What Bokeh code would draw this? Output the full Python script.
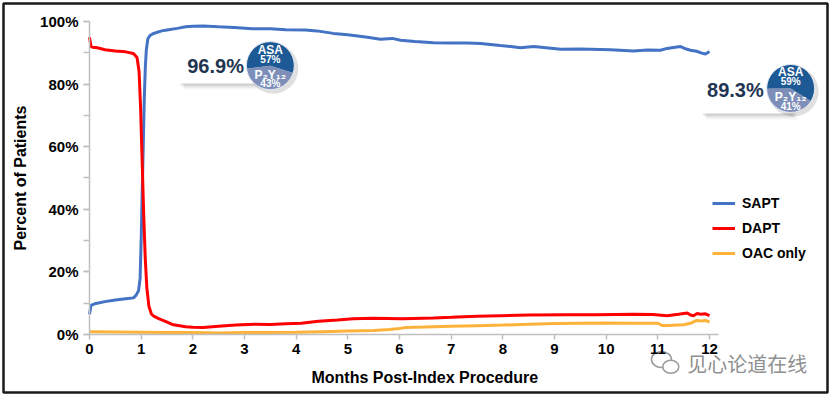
import numpy as np
from bokeh.plotting import figure
from bokeh.models import Range1d, FixedTicker, SingleIntervalTicker, PrintfTickFormatter, Legend, LegendItem, Label
from bokeh.core.properties import value
from bokeh.embed import file_html
from bokeh.resources import INLINE

# ---------------- data ----------------
sapt_m = [0, 0.03, 0.1, 0.3, 0.5, 0.7, 0.85, 0.9, 0.95, 0.98, 1.0, 1.02, 1.04, 1.06, 1.08, 1.1, 1.13, 1.17,
          1.22, 1.3, 1.4, 1.5, 1.7, 1.86, 2.0, 2.2, 2.5, 2.8, 3.15, 3.5, 3.8, 4.18, 4.4, 4.72, 5.0, 5.38,
          5.63, 5.86, 6.02, 6.3, 6.66, 7.0, 7.31, 7.57, 7.95, 8.15, 8.34, 8.6, 9.12, 9.5, 10.08, 10.53,
          10.8, 11.05, 11.18, 11.3, 11.44, 11.55, 11.63, 11.75, 11.85, 11.92, 12.0]
sapt_v = [6.5, 9.3, 9.8, 10.5, 11.0, 11.4, 11.7, 12.5, 14, 18, 30, 45, 60, 75, 85, 91, 94.5, 95.5,
          96.0, 96.5, 97.0, 97.3, 97.8, 98.3, 98.5, 98.6, 98.3, 98.1, 97.7, 97.7, 97.4, 97.3, 97.0, 96.2, 95.8, 95.0,
          94.3, 94.6, 94.0, 93.6, 93.2, 93.1, 93.1, 93.0, 92.3, 92.0, 91.6, 92.0, 91.1, 91.2, 91.0, 90.6,
          90.9, 90.8, 91.4, 91.7, 92.0, 91.2, 90.8, 90.5, 89.9, 89.6, 90.4]

dapt_m = [0, 0.03, 0.06, 0.15, 0.3, 0.5, 0.7, 0.85, 0.92, 0.96, 0.99, 1.02, 1.05, 1.08, 1.11, 1.15, 1.2,
          1.25, 1.35, 1.47, 1.6, 1.86, 2.0, 2.2, 2.5, 2.83, 3.2, 3.5, 3.8, 4.1, 4.43, 4.8, 5.1, 5.5, 6.06,
          6.66, 7.0, 7.5, 7.95, 8.5, 9.25, 9.8, 10.53, 10.9, 11.18, 11.4, 11.57, 11.63, 11.69, 11.76, 11.83,
          11.92, 12.0]
dapt_v = [95.0, 92.0, 91.8, 91.6, 91.0, 90.6, 90.3, 89.8, 88.5, 84, 72, 55, 38, 24, 15, 9, 6.5,
          5.8, 5.0, 4.2, 3.2, 2.5, 2.3, 2.2, 2.6, 3.0, 3.3, 3.2, 3.4, 3.6, 4.2, 4.6, 5.0, 5.2, 5.0,
          5.3, 5.5, 5.8, 6.0, 6.2, 6.3, 6.3, 6.5, 6.4, 6.0, 6.5, 6.9, 6.2, 6.0, 6.7, 6.5,
          6.6, 6.0]

oac_m = [0, 0.5, 1.0, 1.5, 2.0, 2.5, 3.0, 3.5, 4.0, 4.5, 5.0, 5.5, 5.8, 6.0, 6.1, 6.5, 7.0, 7.5, 8.0,
         8.5, 9.0, 9.5, 10.0, 10.5, 11.0, 11.08, 11.2, 11.5, 11.65, 11.75, 11.85, 11.92, 12.0]
oac_v = [0.9, 0.8, 0.7, 0.6, 0.6, 0.5, 0.6, 0.6, 0.7, 0.9, 1.1, 1.3, 1.6, 1.9, 2.2, 2.4, 2.6, 2.8, 3.0,
         3.3, 3.5, 3.6, 3.7, 3.6, 3.6, 2.9, 2.9, 3.1, 3.7, 4.5, 4.3, 4.5, 4.0]

series_names = ["SAPT", "DAPT", "OAC only"]
x_ticks = list(range(0, 13))

callout_values = [96.9, 89.3]      # SAPT % at 1 and 12 months
asa_share = [57, 59]
p2y12_share = [43, 41]

# ---------------- styling / layout ----------------
BLUE, RED, ORANGE = "#4472C4", "#FF0000", "#FDB23A"
NAVY = "#1F3552"
AXIS_GRAY = "#BFBFBF"
FONT = "Liberation Sans"
PX_X = 1 / 51.67   # months per px
PX_Y = 1 / 3.13    # percent per px

p = figure(width=830, height=396, output_backend="svg", toolbar_location=None,
           x_range=Range1d(-1.664, 14.283), y_range=Range1d(-18.53, 105.75),
           min_border_left=3, min_border_right=3, min_border_top=3, min_border_bottom=4,
           outline_line_color="#1a1a1a", outline_line_width=2.5,
           background_fill_color="white", border_fill_color="white")
p.grid.visible = False

# axes (placed at the data origin)
xa = p.xaxis[0]
xa.fixed_location = 0
xa.ticker = FixedTicker(ticks=x_ticks)
xa.bounds = (0, 12.17)
xa.axis_line_color = AXIS_GRAY
xa.axis_line_width = 1.5
xa.major_tick_line_color = AXIS_GRAY
xa.major_tick_line_width = 1.5
xa.major_tick_out = 5
xa.major_tick_in = 0
xa.minor_tick_line_color = None
xa.major_label_standoff = 4
xa.major_label_text_font = FONT
xa.major_label_text_font_style = "bold"
xa.major_label_text_font_size = "15px"
xa.major_label_text_color = "black"

ya = p.yaxis[0]
ya.fixed_location = 0
ya.bounds = (0, 100)
ya.ticker = SingleIntervalTicker(interval=20, num_minor_ticks=2)
ya.formatter = PrintfTickFormatter(format="%d%%")
ya.axis_line_color = AXIS_GRAY
ya.axis_line_width = 1.5
ya.major_tick_line_color = AXIS_GRAY
ya.major_tick_line_width = 1.5
ya.minor_tick_line_color = AXIS_GRAY
ya.minor_tick_line_width = 1.5
ya.major_tick_out = 6
ya.major_tick_in = 0
ya.minor_tick_out = 6
ya.minor_tick_in = 0
ya.major_label_standoff = 5
ya.major_label_text_font = FONT
ya.major_label_text_font_style = "bold"
ya.major_label_text_font_size = "15px"
ya.major_label_text_color = "black"
ya.axis_label = "Percent of Patients"
ya.axis_label_text_font = FONT
ya.axis_label_text_font_style = "bold"
ya.axis_label_text_font_size = "16px"
ya.axis_label_text_color = "black"
ya.axis_label_standoff = 8

# lines
r_sapt = p.line(sapt_m, sapt_v, line_color=BLUE, line_width=3)
r_dapt = p.line(dapt_m, dapt_v, line_color=RED, line_width=3)
r_oac = p.line(oac_m, oac_v, line_color=ORANGE, line_width=3)

legend = Legend(items=[LegendItem(label=series_names[0], renderers=[r_sapt]),
                       LegendItem(label=series_names[1], renderers=[r_dapt]),
                       LegendItem(label=series_names[2], renderers=[r_oac])],
                location=(709, 129), orientation="vertical", padding=0, margin=0, spacing=5,
                glyph_width=23, glyph_height=20, label_height=20, label_standoff=7,
                label_text_font=FONT, label_text_font_style="bold", label_text_font_size="14px",
                label_text_color="black", background_fill_alpha=0, border_line_alpha=0)
p.add_layout(legend, "center")

# callouts
callouts = [
    dict(L=1.72, R=3.50, T=92.3, B=80.2, P1=1.96, P2=2.36, tipy=97.8, tx=2.44, ty=85.9, cx=3.50, cy=85.9, rot=-18),
    dict(L=11.83, R=13.57, T=83.7, B=70.6, P1=12.06, P2=12.50, tipy=89.8, tx=12.50, ty=78.0, cx=13.57, cy=78.6, rot=-32),
]
for c in callouts:
    xs = [c["L"], c["P1"], c["P1"], c["P2"], c["R"], c["R"], c["L"]]
    ys = [c["T"], c["T"], c["tipy"], c["T"], c["T"], c["B"], c["B"]]
    for k, a in ((6, 0.04), (4, 0.07), (2, 0.09)):
        p.patch([x + k * PX_X for x in xs], [y - k * PX_Y for y in ys], fill_color="black", fill_alpha=a, line_color=None)
    p.patch(xs, ys, fill_color="white", line_color=None)

p.text(x=[c["tx"] for c in callouts], y=[c["ty"] for c in callouts],
       text=[f"{v:.1f}%" for v in callout_values], text_align="center", text_baseline="middle",
       text_font=value("'Liberation Sans Narrow', 'Liberation Sans', sans-serif"), text_font_style="bold",
       text_font_size="20px", text_color=NAVY)

cxs = [c["cx"] for c in callouts]
cys = [c["cy"] for c in callouts]
a_start = [np.deg2rad(c["rot"]) for c in callouts]
a_mid = [np.deg2rad(c["rot"] + s * 3.6) for c, s in zip(callouts, asa_share)]
a_end = [np.deg2rad(c["rot"] + 360) for c in callouts]
p.circle(x=[x + 3 * PX_X for x in cxs], y=[y - 3 * PX_Y for y in cys], radius=25, radius_units="screen",
         fill_color="black", fill_alpha=0.12, line_color=None)
p.wedge(x=cxs, y=cys, radius=24, radius_units="screen", start_angle=a_start, end_angle=a_mid,
        fill_color="#1D5A95", line_color=None)
p.wedge(x=cxs, y=cys, radius=24, radius_units="screen", start_angle=a_mid, end_angle=a_end,
        fill_color="#7D8FB9", line_color=None)
p.circle(x=cxs, y=cys, radius=24, radius_units="screen", fill_color=None, line_color="#E3E8F0", line_width=1)

for txt, dy, fs in ((["ASA", "ASA"], 16, "12px"),
                    ([f"{s}%" for s in asa_share], 6.5, "10px"),
                    (["P\u2082Y\u2081\u2082", "P\u2082Y\u2081\u2082"], -9, "12px"),
                    ([f"{s}%" for s in p2y12_share], -18, "10px")):
    p.text(x=cxs, y=[y + dy * PX_Y for y in cys], text=txt, text_align="center", text_baseline="middle",
           text_font=value(FONT), text_font_style="bold", text_font_size=fs, text_color="white")

# x axis title
p.add_layout(Label(x=6.49, y=-13.7, text="Months Post-Index Procedure", text_align="center",
                   text_baseline="middle", text_font=FONT, text_font_style="bold",
                   text_font_size="16px", text_color="black"))
# watermark (WeChat-style bubbles + text)
p.ellipse(x=[11.07, 11.25], y=[-8.0, -10.3], width=[20, 16], height=[16, 13],
          width_units="screen", height_units="screen", fill_color="white",
          line_color="#9a9a9a", line_width=1.5)
p.add_layout(Label(x=11.57, y=-9.3, text="见心论道在线", text_align="left", text_baseline="middle",
                   text_font="Noto Sans CJK SC", text_font_size="20px", text_color="#8f8f8f"))

html = file_html(p, INLINE)
html = html.replace("<head>", "<head><style>html,body{margin:0;padding:0;}</style>", 1)
open("out.html", "w").write(html)
